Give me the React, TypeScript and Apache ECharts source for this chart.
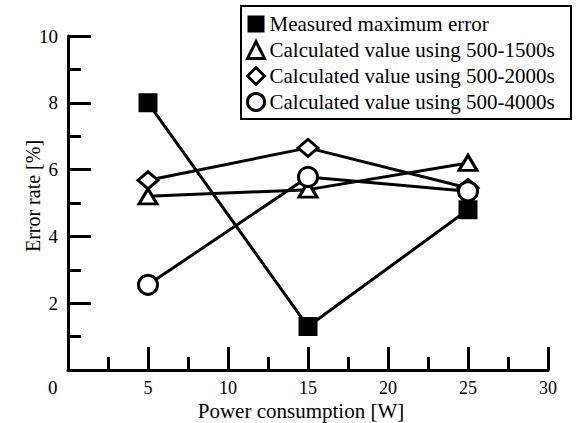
import React, { useEffect, useRef } from "react";
import * as echarts from "echarts";

const xValues = [5, 15, 25];
const measured = [8.0, 1.3, 4.8];
const calc1500 = [5.2, 5.4, 6.2];
const calc2000 = [5.68, 6.65, 5.45];
const calc4000 = [2.55, 5.78, 5.35];
const seriesNames = [
  "Measured maximum error",
  "Calculated value using 500-1500s",
  "Calculated value using 500-2000s",
  "Calculated value using 500-4000s",
];
const xTitle = "Power consumption [W]";
const yTitle = "Error rate [%]";

const FONT = "Liberation Serif";

export default function App() {
  const ref = useRef<HTMLDivElement>(null);
  useEffect(() => {
    if (!ref.current) return;
    const chart = echarts.init(ref.current, undefined, { renderer: "svg", width: 576, height: 423 });
    const pts = (ys: number[]) => xValues.map((x, i) => [x, ys[i]]);
    const emptyStyle = { color: "#fff", borderColor: "#000", borderWidth: 3 };
    const mk = (name: string, ys: number[], symbol: string, size: any, itemStyle: any) => ({
      name,
      type: "line",
      data: pts(ys),
      symbol,
      symbolSize: size,
      showSymbol: true,
      lineStyle: { color: "#000", width: 3 },
      itemStyle,
      z: 3,
    });
    const axisCommon = {
      axisLine: { show: true, onZero: false, lineStyle: { color: "#000", width: 3 } },
      axisTick: { show: true, inside: true, length: 23, lineStyle: { color: "#000", width: 3 } },
      minorTick: { show: true, splitNumber: 2, length: 13, lineStyle: { color: "#000", width: 3 } },
      splitLine: { show: false },
      minorSplitLine: { show: false },
    };
    chart.setOption({
      animation: false,
      backgroundColor: "#fff",
      textStyle: { fontFamily: FONT },
      grid: { left: 68, right: 28, top: 36, bottom: 53, outerBoundsMode: "none", containLabel: false },
      xAxis: {
        type: "value",
        min: 0,
        max: 30,
        interval: 5,
        ...axisCommon,
        axisLabel: {
          fontFamily: FONT,
          fontSize: 18,
          color: "#000",
          margin: 9,
          formatter: (v: number) => (v === 0 ? "" : String(v)),
        },
      },
      yAxis: {
        type: "value",
        min: 0,
        max: 10,
        interval: 2,
        ...axisCommon,
        axisLabel: {
          fontFamily: FONT,
          fontSize: 19,
          color: "#000",
          margin: 10,
          formatter: (v: number) => (v === 0 ? "" : String(v)),
        },
      },
      legend: {
        orient: "vertical",
        left: 246,
        top: 13.5,
        padding: 0,
        itemWidth: 17,
        itemHeight: 17,
        itemGap: 5,
        itemTextGap: 14,
        textStyle: { fontFamily: FONT, fontSize: 21, color: "#000" },
        data: [
          { name: seriesNames[0], icon: "rect", itemStyle: { color: "#000", borderColor: "#000", borderWidth: 0 } },
          { name: seriesNames[1], icon: "triangle", itemStyle: emptyStyle },
          { name: seriesNames[2], icon: "diamond", itemStyle: emptyStyle },
          { name: seriesNames[3], icon: "circle", itemStyle: emptyStyle },
        ],
      },
      graphic: [
        {
          type: "rect",
          left: 240,
          top: 5,
          shape: { x: 0, y: 0, width: 330, height: 113 },
          style: { fill: "transparent", stroke: "#000", lineWidth: 2 },
          z: 10,
        },
        {
          type: "text",
          left: 48,
          top: 378,
          style: { text: "0", fontFamily: FONT, fontSize: 19, fill: "#000" },
        },
        {
          type: "text",
          x: 33,
          y: 196,
          rotation: Math.PI / 2,
          style: {
            text: yTitle,
            fontFamily: FONT,
            fontSize: 20,
            fill: "#000",
            align: "center",
            verticalAlign: "middle",
          },
        },
        {
          type: "text",
          x: 301,
          y: 410.5,
          style: {
            text: xTitle,
            fontFamily: FONT,
            fontSize: 21,
            fill: "#000",
            align: "center",
            verticalAlign: "middle",
          },
        },
      ],
      series: [
        mk(seriesNames[0], measured, "rect", 17, { color: "#000", borderColor: "#000", borderWidth: 2 }),
        mk(seriesNames[1], calc1500, "triangle", [18, 15], emptyStyle),
        mk(seriesNames[2], calc2000, "diamond", [20, 17], emptyStyle),
        mk(seriesNames[3], calc4000, "circle", 19, emptyStyle),
      ],
    });
    return () => chart.dispose();
  }, []);
  return <div ref={ref} style={{ position: "fixed", left: 0, top: 0, width: 576, height: 423 }} />;
}
